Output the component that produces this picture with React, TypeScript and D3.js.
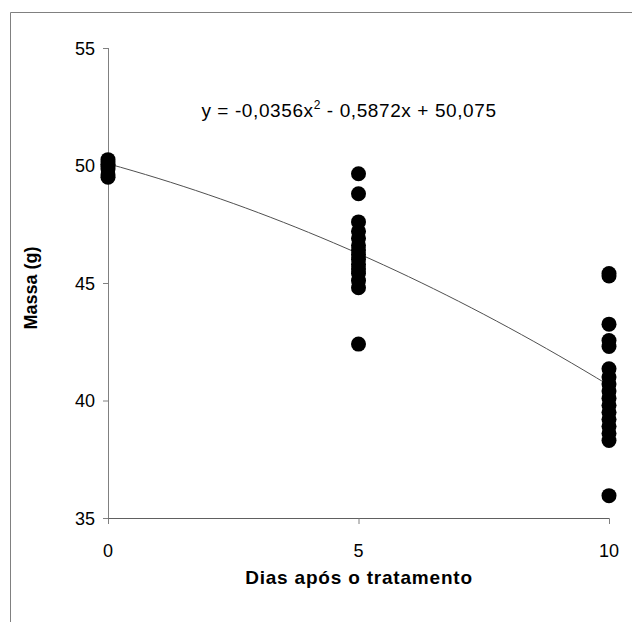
import React from "react";
import * as d3 from "d3";

// dias de observação e massa (g) de cada fruto
const days0 = [50.25, 50.15, 50.05, 49.95, 49.85, 49.6, 49.5];
const days5 = [
  49.65, 48.8, 47.6, 47.2, 46.9, 46.6, 46.4, 46.2, 46.0, 45.8, 45.6, 45.4,
  45.1, 44.8, 42.4,
];
const days10 = [
  45.4, 45.3, 43.25, 42.55, 42.3, 41.35, 41.0, 40.7, 40.4, 40.1, 39.8, 39.5,
  39.2, 38.9, 38.6, 38.3, 35.95,
];
const groups = [
  { day: 0, values: days0 },
  { day: 5, values: days5 },
  { day: 10, values: days10 },
];

const xTicks = [0, 5, 10];
const yTicks = [35, 40, 45, 50, 55];
// coeficientes da regressão: a x² + b x + c
const coef = [-0.0356, -0.5872, 50.075];
const trendDays = d3.range(0, 10.01, 0.25);

const W = 632;
const H = 622;
const font = "'Liberation Sans', Arial, sans-serif";

export default function App() {
  const x = d3.scaleLinear().domain([0, 10]).range([108, 609]);
  const y = d3.scaleLinear().domain([35, 55]).range([518, 48]);

  const fit = (d: number) => coef[0] * d * d + coef[1] * d + coef[2];
  const line = d3
    .line<number>()
    .x((d) => x(d))
    .y((d) => y(fit(d)));

  const points = groups.flatMap((g) =>
    g.values.map((v) => ({ day: g.day, v }))
  );

  return (
    <svg
      width={W}
      height={H}
      style={{ position: "absolute", left: 0, top: 0, background: "#fff" }}
      fontFamily={font}
    >
      {/* moldura */}
      <path d={`M10.5,${H} V12.5 H${W}`} fill="none" stroke="#808080" strokeWidth={1} />

      {/* eixo y */}
      <line x1={108.5} x2={108.5} y1={y(55)} y2={y(35)} stroke="#808080" />
      {yTicks.map((t) => (
        <g key={t}>
          <line x1={103} x2={108.5} y1={y(t) + 0.5} y2={y(t) + 0.5} stroke="#808080" />
          <text x={95} y={y(t) + 6.5} textAnchor="end" fontSize={18} fill="#000">
            {t}
          </text>
        </g>
      ))}

      {/* eixo x */}
      <line x1={x(0)} x2={x(10) + 0.5} y1={518.5} y2={518.5} stroke="#606060" />
      {xTicks.map((t) => (
        <g key={t}>
          <line x1={x(t) + 0.5} x2={x(t) + 0.5} y1={518.5} y2={524} stroke="#808080" />
          <text x={x(t)} y={557} textAnchor="middle" fontSize={18} fill="#000">
            {t}
          </text>
        </g>
      ))}

      {/* linha de tendência */}
      <path d={line(trendDays) || ""} fill="none" stroke="#505050" strokeWidth={1} />

      {/* pontos */}
      {points.map((p, i) => (
        <circle key={i} cx={x(p.day)} cy={y(p.v)} r={7.5} fill="#000" />
      ))}

      {/* equação */}
      <text x={349} y={117} textAnchor="middle" fontSize={19} letterSpacing={0.6} fill="#000">
        y = -0,0356x
        <tspan dy={-8} fontSize={12}>
          2
        </tspan>
        <tspan dy={8}> - 0,5872x + 50,075</tspan>
      </text>

      {/* títulos */}
      <text
        x={359}
        y={584}
        textAnchor="middle"
        fontSize={19}
        fontWeight="bold"
        letterSpacing={0.8}
        fill="#000"
      >
        Dias após o tratamento
      </text>
      <text
        transform="translate(37,288) rotate(-90)"
        textAnchor="middle"
        fontSize={18}
        fontWeight="bold"
        fill="#000"
      >
        Massa (g)
      </text>
    </svg>
  );
}
